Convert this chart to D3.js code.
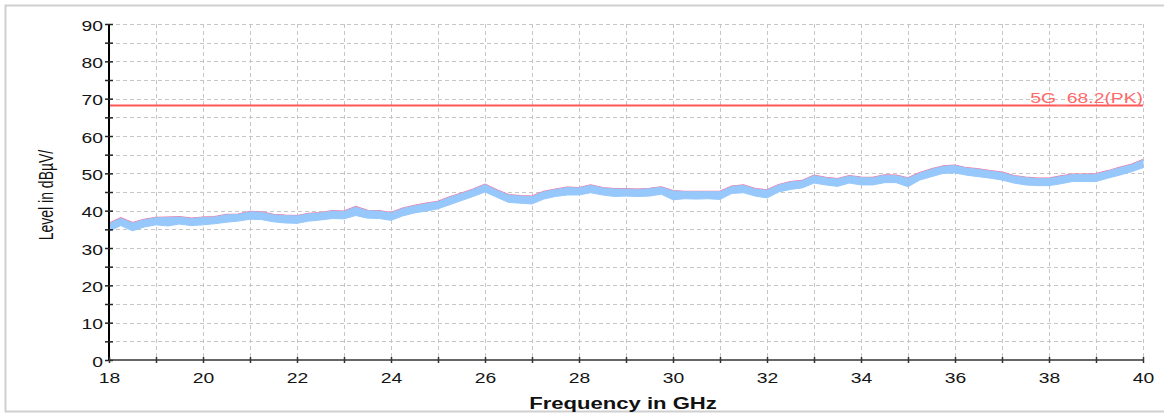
<!DOCTYPE html>
<html><head><meta charset="utf-8">
<script src="https://cdn.jsdelivr.net/npm/d3@7"></script>
<style>
html,body{margin:0;padding:0;background:#fff;}
svg{display:block;font-family:Arial,"Liberation Sans",sans-serif;}
</style></head>
<body>
<svg id="c" width="1164" height="413"></svg>
<script>
const freqGHz = [18,18.25,18.5,18.75,19,19.25,19.5,19.75,20,20.25,20.5,20.75,21,21.25,21.5,21.75,22,22.25,22.5,22.75,23,23.25,23.5,23.75,24,24.25,24.5,24.75,25,25.25,25.5,25.75,26,26.25,26.5,26.75,27,27.25,27.5,27.75,28,28.25,28.5,28.75,29,29.25,29.5,29.75,30,30.25,30.5,30.75,31,31.25,31.5,31.75,32,32.25,32.5,32.75,33,33.25,33.5,33.75,34,34.25,34.5,34.75,35,35.25,35.5,35.75,36,36.25,36.5,36.75,37,37.25,37.5,37.75,38,38.25,38.5,38.75,39,39.25,39.5,39.75,40];
const levelMax = [36.5,38.0,36.7,37.6,38.1,38.2,38.3,37.9,38.2,38.3,38.9,39.0,39.7,39.6,38.9,38.7,38.6,39.2,39.4,39.9,39.8,41.0,40.0,39.9,39.4,40.6,41.3,41.9,42.4,43.6,44.6,45.7,47.0,45.5,44.2,43.9,43.8,45.1,45.7,46.2,46.1,46.8,46.1,45.8,45.8,45.7,45.9,46.3,45.3,45.1,45.1,45.1,45.1,46.5,46.8,45.8,45.5,46.9,47.7,48.0,49.4,48.8,48.5,49.3,48.9,48.8,49.5,49.4,48.7,50.1,51.1,51.9,52.1,51.4,51.1,50.6,50.2,49.3,48.9,48.6,48.6,49.2,49.7,49.7,49.8,50.6,51.5,52.3,53.6];
const levelMin = [34.4,36.0,34.6,35.6,36.2,35.9,36.4,36.0,36.2,36.5,36.9,37.2,37.7,37.6,37.0,36.7,36.6,37.2,37.5,37.9,37.8,38.7,38.0,37.9,37.4,38.6,39.4,39.9,40.5,41.6,42.7,43.8,45.0,43.6,42.2,42.0,41.8,43.1,43.8,44.2,44.2,44.8,44.2,43.8,43.9,43.8,43.9,44.4,42.9,43.2,43.1,43.2,43.0,44.6,44.8,43.9,43.4,45.0,45.7,46.1,47.4,46.9,46.5,47.4,46.9,46.9,47.5,47.5,46.4,48.2,49.1,50.0,50.1,49.5,49.1,48.7,48.2,47.4,46.9,46.7,46.7,47.2,47.8,47.8,47.8,48.7,49.5,50.4,51.5];
const limitValue = 68.2;
const limitLabel = "5G_68.2(PK)";
const xTicks = [18,20,22,24,26,28,30,32,34,36,38,40];
const yTicks = [0,10,20,30,40,50,60,70,80,90];
const xTitle = "Frequency in GHz";
const yTitle = "Level in dBµV/";

const SX = 1.38; // horizontal stretch of the original raster text
const svg = d3.select("#c");
const L = 109, R = 1143, T = 24, B = 360;
const x = d3.scaleLinear().domain([18,40]).range([L,R]);
const y = d3.scaleLinear().domain([0,90]).range([B,T]);

// outer frame
svg.append("rect").attr("x",5.5).attr("y",5.5).attr("width",1170).attr("height",406)
  .attr("fill","none").attr("stroke","#cfcfcf").attr("stroke-width",2);

// grid
const g = svg.append("g");
d3.range(19,41,1).forEach(v=>{
  g.append("line").attr("x1",x(v)+0.5).attr("x2",x(v)+0.5).attr("y1",T).attr("y2",B)
   .attr("stroke","#c6c6c6").attr("stroke-dasharray","4,3");
});
d3.range(5,91,5).forEach(v=>{
  g.append("line").attr("x1",L).attr("x2",R).attr("y1",Math.round(y(v))+0.5).attr("y2",Math.round(y(v))+0.5)
   .attr("stroke","#c6c6c6").attr("stroke-dasharray","4,3");
});

// limit line
svg.append("line").attr("x1",L).attr("x2",R).attr("y1",y(limitValue)).attr("y2",y(limitValue))
  .attr("stroke","#ff5656").attr("stroke-width",2);
svg.append("text").attr("transform",`translate(${R},${y(limitValue)-2.5}) scale(${SX},1)`).attr("text-anchor","end")
  .attr("font-size",14).attr("fill","#ff6a6a").text(limitLabel);

// trace
const peakLine = d3.line().x((d,i)=>x(freqGHz[i])).y(d=>y(d));
svg.append("path").datum(levelMax).attr("d",peakLine).attr("fill","none")
  .attr("stroke","#ff6f9c").attr("stroke-width",2);
const band = d3.area().x((d,i)=>x(freqGHz[i])).y0((d,i)=>y(levelMin[i])).y1((d,i)=>y(levelMax[i]));
svg.append("path").datum(levelMax).attr("d",band).attr("fill","#96c8fb").attr("stroke","#96c8fb").attr("stroke-width",1);

// axes
const yAxis = d3.axisLeft(y).tickValues(d3.range(0,91,5)).tickSize(4)
  .tickFormat(d=> yTicks.includes(d) ? d : "");
const ya = svg.append("g").attr("transform",`translate(${L},0)`).call(yAxis);
ya.select(".domain").attr("stroke","#000").attr("stroke-width",2).attr("d",`M0,${T}V${B}`);
ya.selectAll(".tick line").attr("x1",-4).attr("x2",4).attr("stroke","#222").attr("stroke-width",1.5);
ya.selectAll(".tick text").attr("x",-6/SX).attr("transform",`scale(${SX},1)`).attr("font-size",14)
  .attr("fill","#151515").attr("font-family","Arial,'Liberation Sans',sans-serif").attr("dy","0.45em");

const xAxis = d3.axisBottom(x).tickValues(d3.range(18,41,1)).tickSize(3)
  .tickFormat(d=> xTicks.includes(d) ? d : "");
const xa = svg.append("g").attr("transform",`translate(0,${B})`).call(xAxis);
xa.select(".domain").attr("stroke","#333").attr("stroke-width",1.5).attr("d",`M${L},0H${R}`);
xa.selectAll(".tick line").attr("y1",-3).attr("y2",3).attr("stroke","#333").attr("stroke-width",1.5);
xa.selectAll(".tick text").attr("y",23).attr("dy",0).attr("transform",`scale(${SX},1)`).attr("font-size",14)
  .attr("fill","#151515").attr("font-family","Arial,'Liberation Sans',sans-serif");

// titles
svg.append("text").attr("transform",`translate(53,195) scale(${SX},1) rotate(-90)`).attr("text-anchor","middle")
  .attr("font-size",14).attr("fill","#111").text(yTitle);
svg.append("text").attr("transform",`translate(623,409) scale(${SX},1)`).attr("text-anchor","middle")
  .attr("font-size",16).attr("font-weight","bold").attr("fill","#111").text(xTitle);
</script>
</body></html>
